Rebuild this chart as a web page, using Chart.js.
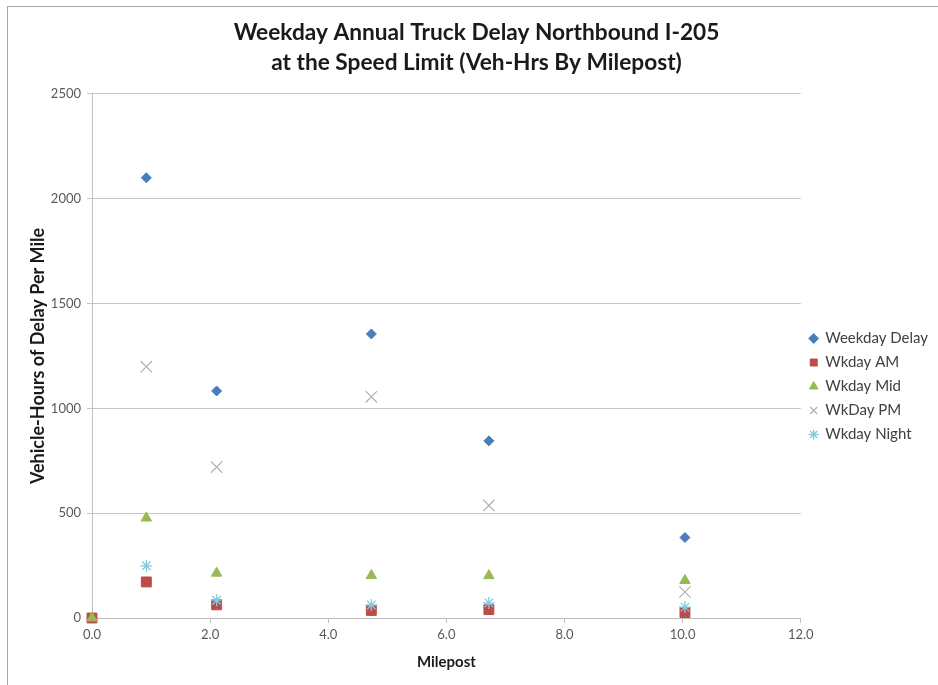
<!DOCTYPE html>
<html>
<head>
<meta charset="utf-8">
<script src="https://cdn.jsdelivr.net/npm/chart.js@4.4.1/dist/chart.umd.min.js"></script>
<style>
  html, body { margin: 0; padding: 0; background: #fff; }
  #wrap { position: relative; width: 938px; height: 685px; overflow: hidden; }
  #frame { position: absolute; left: 7px; top: 6px; width: 1000px; height: 1000px;
           border-left: 1px solid #a6a6a6; border-top: 1px solid #a6a6a6; }
  #chart { position: absolute; left: 0; top: 0; }
</style>
</head>
<body>
<div id="wrap">
  <div id="frame"></div>
  <canvas id="chart" width="938" height="685"></canvas>
</div>
<script>
// milepost positions (x) shared by all series
const mileposts   = [0.0, 0.92, 2.11, 4.73, 6.72, 10.04];
const weekdayDelay = [0, 2100, 1083, 1355, 845, 384];
const wkdayAM      = [0, 172, 63, 36, 40, 26];
const wkdayMid     = [0, 477, 214, 203, 202, 179];
const wkdayPM      = [null, 1199, 720, 1055, 537, 124];
const wkdayNight   = [null, 249, 85, 62, 72, 52];

const seriesNames = ['Weekday Delay', 'Wkday AM', 'Wkday Mid', 'WkDay PM', 'Wkday Night'];
const xTicks = [0, 2, 4, 6, 8, 10, 12];
const yTicks = [0, 500, 1000, 1500, 2000, 2500];

function pts(vals) {
  return mileposts.map(function(x, i){ return { x: x, y: vals[i] }; });
}

// nudge the legend down a bit like the original
const legendShift = {
  id: 'legendShift',
  afterLayout(chart) {
    const lg = chart.legend;
    if (lg) { lg.top += 51; lg.bottom += 51; }
  }
};

const base = { showLine: false, borderWidth: 1, clip: false };

const canvas = document.getElementById('chart');
new Chart(canvas.getContext('2d'), {
  type: 'scatter',
  data: {
    datasets: [
      Object.assign({}, base, { label: seriesNames[0], data: pts(weekdayDelay), order: 5,
        pointStyle: 'rectRot', pointRadius: 5, backgroundColor: '#4a7ebb', borderColor: '#4a7ebb' }),
      Object.assign({}, base, { label: seriesNames[1], data: pts(wkdayAM), order: 4,
        pointStyle: 'rect', pointRadius: 7, backgroundColor: '#be4b48', borderColor: '#be4b48' }),
      Object.assign({}, base, { label: seriesNames[2], data: pts(wkdayMid), order: 3,
        pointStyle: 'triangle', pointRadius: 6, backgroundColor: '#98b954', borderColor: '#98b954' }),
      Object.assign({}, base, { label: seriesNames[3], data: pts(wkdayPM), order: 2,
        pointStyle: 'crossRot', pointRadius: 8, backgroundColor: '#b0b0b0', borderColor: '#b0b0b0', borderWidth: 1.2 }),
      Object.assign({}, base, { label: seriesNames[4], data: pts(wkdayNight), order: 1,
        pointStyle: 'star', pointRadius: 6, backgroundColor: '#7fcbe0', borderColor: '#7fcbe0', borderWidth: 1.3 })
    ]
  },
  options: {
    responsive: false,
    animation: false,
    layout: { padding: { left: 15, right: 0, top: 0, bottom: 14 } },
    plugins: {
      title: {
        display: true,
        text: ['Weekday Annual Truck Delay Northbound I-205', 'at the Speed Limit (Veh-Hrs By Milepost)'],
        color: '#1a1a1a',
        font: { family: 'Lato', size: 22.7, weight: 'bold', lineHeight: 1.32 },
        padding: { top: 18, bottom: 16 }
      },
      legend: {
        position: 'right',
        labels: {
          usePointStyle: true,
          boxWidth: 8,
          boxHeight: 7,
          padding: 9,
          color: '#404040',
          font: { family: 'Lato', size: 15 },
          sort: function(a, b){ return a.datasetIndex - b.datasetIndex; }
        }
      },
      tooltip: { enabled: false }
    },
    scales: {
      x: {
        type: 'linear',
        min: 0, max: 12,
        afterBuildTicks: function(s){ s.ticks = xTicks.map(function(v){ return { value: v }; }); },
        afterFit: function(s){ s.height = 53; },
        ticks: {
          color: '#595959',
          font: { family: 'Lato', size: 13 },
          padding: 4,
          callback: function(v){ return Number(v).toFixed(1); }
        },
        grid: { drawOnChartArea: false, drawTicks: true, tickLength: 5, color: '#bfbfbf' },
        border: { display: true, color: '#bfbfbf', width: 1 },
        title: {
          display: true, text: 'Milepost', color: '#1a1a1a',
          font: { family: 'Lato', size: 15, weight: 'bold' },
          padding: { top: 9, bottom: 0 }
        }
      },
      y: {
        type: 'linear',
        min: 0, max: 2500,
        afterBuildTicks: function(s){ s.ticks = yTicks.map(function(v){ return { value: v }; }); },
        afterFit: function(s){ s.width = 77; },
        ticks: {
          color: '#595959',
          font: { family: 'Lato', size: 13 },
          padding: 6,
          callback: function(v){ return String(v); }
        },
        grid: { color: '#c6c6c6', lineWidth: 1, tickLength: 5, drawTicks: true },
        border: { display: true, color: '#bfbfbf', width: 1 },
        title: {
          display: true, text: 'Vehicle-Hours of Delay Per Mile', color: '#1a1a1a',
          font: { family: 'Lato', size: 18, weight: 'bold' },
          padding: { top: 12, bottom: 0 }
        }
      }
    }
  },
  plugins: [legendShift]
});
</script>
</body>
</html>
